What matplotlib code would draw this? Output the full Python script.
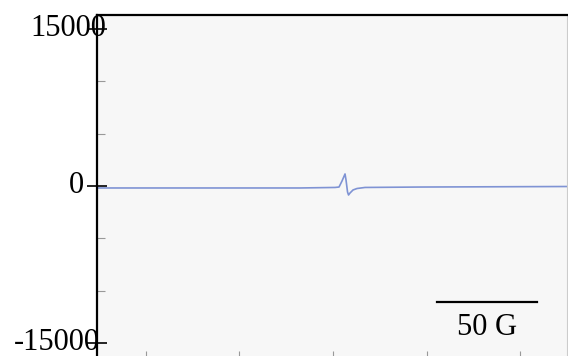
import numpy as np
import matplotlib.pyplot as plt
from matplotlib.ticker import FixedLocator

plt.rcParams['font.family'] = ['Liberation Serif', 'DejaVu Serif']

# EPR spectrum trace: magnetic field (G) and signal intensity (a.u.)
field = [3265, 3316.5, 3366.5, 3384, 3386, 3387.5, 3389, 3389.5, 3390.25,
         3390.75, 3391.5, 3393, 3395, 3399, 3426.5, 3500]
intensity = [-190, -190, -190, -140, -100, 480, 1150, 570, -570,
             -860, -670, -380, -240, -140, -100, -50]

y_major = [15000, 0, -15000]
y_major_labels = ['15000', '0', '-15000']
y_minor = [10000, 5000, -5000, -10000]
x_ticks = [3289.5, 3336, 3383, 3430, 3476.5]

scale_bar_start = 3435
scale_bar_len = 50  # G

fig = plt.figure(figsize=(5.68, 3.56), dpi=100)
ax = fig.add_axes([0.1708, -0.0056, 0.8275, 0.9635])
ax.set_facecolor('#f7f7f7')

ax.plot(field, intensity, color='#7f93d4', lw=1.2)

ax.set_xlim(3265, 3500)
ax.set_ylim(-16433, 16337)

# spines
ax.spines['left'].set_linewidth(1.6)
ax.spines['top'].set_linewidth(1.6)
ax.spines['right'].set_color('#cccccc')
ax.spines['right'].set_linewidth(0.8)
ax.spines['bottom'].set_visible(False)

# ticks
ax.set_xticks(x_ticks)
ax.set_xticklabels([])
ax.tick_params(axis='x', direction='in', length=5, width=0.8, color='#999999')

ax.set_yticks(y_major)
ax.yaxis.set_minor_locator(FixedLocator(y_minor))
ax.set_yticklabels([])
ax.tick_params(axis='y', which='major', direction='inout', length=14.5, width=1.2,
               color='black')
ax.tick_params(axis='y', which='minor', direction='in', length=5.5, width=0.8,
               color='#999999')

# y labels sit right on top of the tick marks
label_x = [0.0191, -0.0277, 0.0064]
for val, txt, lx in zip(y_major, y_major_labels, label_x):
    ax.text(lx, val, txt, transform=ax.get_yaxis_transform(), ha='right',
            va='center', fontsize=22, clip_on=False)

# scale bar
ax.plot([scale_bar_start, scale_bar_start + scale_bar_len], [-11083, -11083],
        color='black', lw=1.6)
ax.text(scale_bar_start + scale_bar_len / 2, -13519, f'{scale_bar_len} G',
        ha='center', va='center', fontsize=22)

fig.savefig('out.png', dpi=100)
